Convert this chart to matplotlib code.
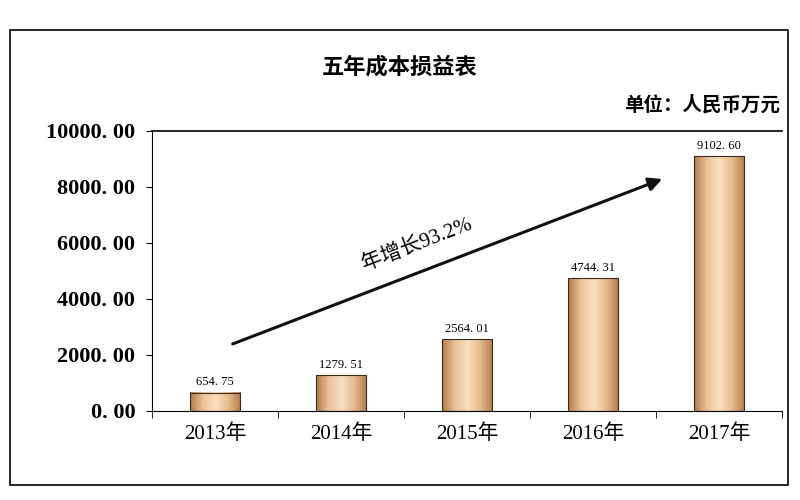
import matplotlib
matplotlib.use("Agg")
import matplotlib.pyplot as plt
import numpy as np
from matplotlib.patches import Rectangle

categories = ["2013年", "2014年", "2015年", "2016年", "2017年"]
values = [654.75, 1279.51, 2564.01, 4744.31, 9102.60]
yticks = [0, 2000, 4000, 6000, 8000, 10000]

mix = ["Liberation Serif", "Noto Sans CJK SC"]
fig = plt.figure(figsize=(8, 5), dpi=100)
fig.patches.append(Rectangle((0.012, 0.03), 0.973, 0.91, transform=fig.transFigure,
                             fill=False, edgecolor="black", lw=1.2))
ax = fig.add_axes([0.19, 0.178, 0.7875, 0.56])
x = np.arange(len(values))
w = 0.4
bars = ax.bar(x, values, width=w, color="none", edgecolor="#3a2a1a", lw=0.8, zorder=3)
cmap = matplotlib.colors.LinearSegmentedColormap.from_list(
    "cu", ["#b07a48", "#e9c196", "#f9e0c0", "#e6bb8c", "#b27c4a"])
grad = np.linspace(0, 1, 256).reshape(1, -1)
for b in bars:
    ax.imshow(grad, cmap=cmap, aspect="auto", zorder=2,
              extent=[b.get_x(), b.get_x() + b.get_width(), 0, b.get_height()])
for xi, v in zip(x, values):
    ax.text(xi, v + 150, f"{v:.2f}".replace(".", ". "), ha="center", va="bottom",
            fontsize=9, family="Liberation Serif")
ax.set_xlim(-0.5, 4.5)
ax.set_ylim(0, 10000)
ax.set_yticks(yticks)
ax.set_yticklabels([f"{t:.2f}".replace(".", ". ") for t in yticks],
                   family="Liberation Serif", fontsize=16, fontweight="bold")
ax.set_xticks(x)
ax.set_xticklabels(categories, family=mix, fontsize=15)
ax.tick_params(axis="x", length=0, pad=10)
ax.set_xticks(np.arange(-0.5, 5, 1), minor=True)
ax.tick_params(axis="x", which="minor", length=5, direction="out")
ax.tick_params(axis="y", length=4, direction="out", pad=8)
for s in ["top", "right"]:
    ax.spines[s].set_visible(False)
ax.axhline(10000, color="black", lw=1.2, clip_on=False)
ax.annotate("", xy=(3.57, 8320), xytext=(0.12, 2360),
            arrowprops=dict(arrowstyle="-|>,head_length=0.8,head_width=0.4",
                            lw=2.2, color="#111111"))
ax.text(1.6, 5950, "年增长93.2%", rotation=21, ha="center", va="center",
        fontsize=15, family=mix)
fig.text(0.5, 0.865, "五年成本损益表", ha="center", va="center", fontsize=16,
         fontweight="bold", family="Noto Sans CJK SC")
fig.text(0.975, 0.79, "单位：人民币万元", ha="right", va="center", fontsize=14,
         fontweight="bold", family="Noto Sans CJK SC")
fig.savefig("out.png", dpi=100)
